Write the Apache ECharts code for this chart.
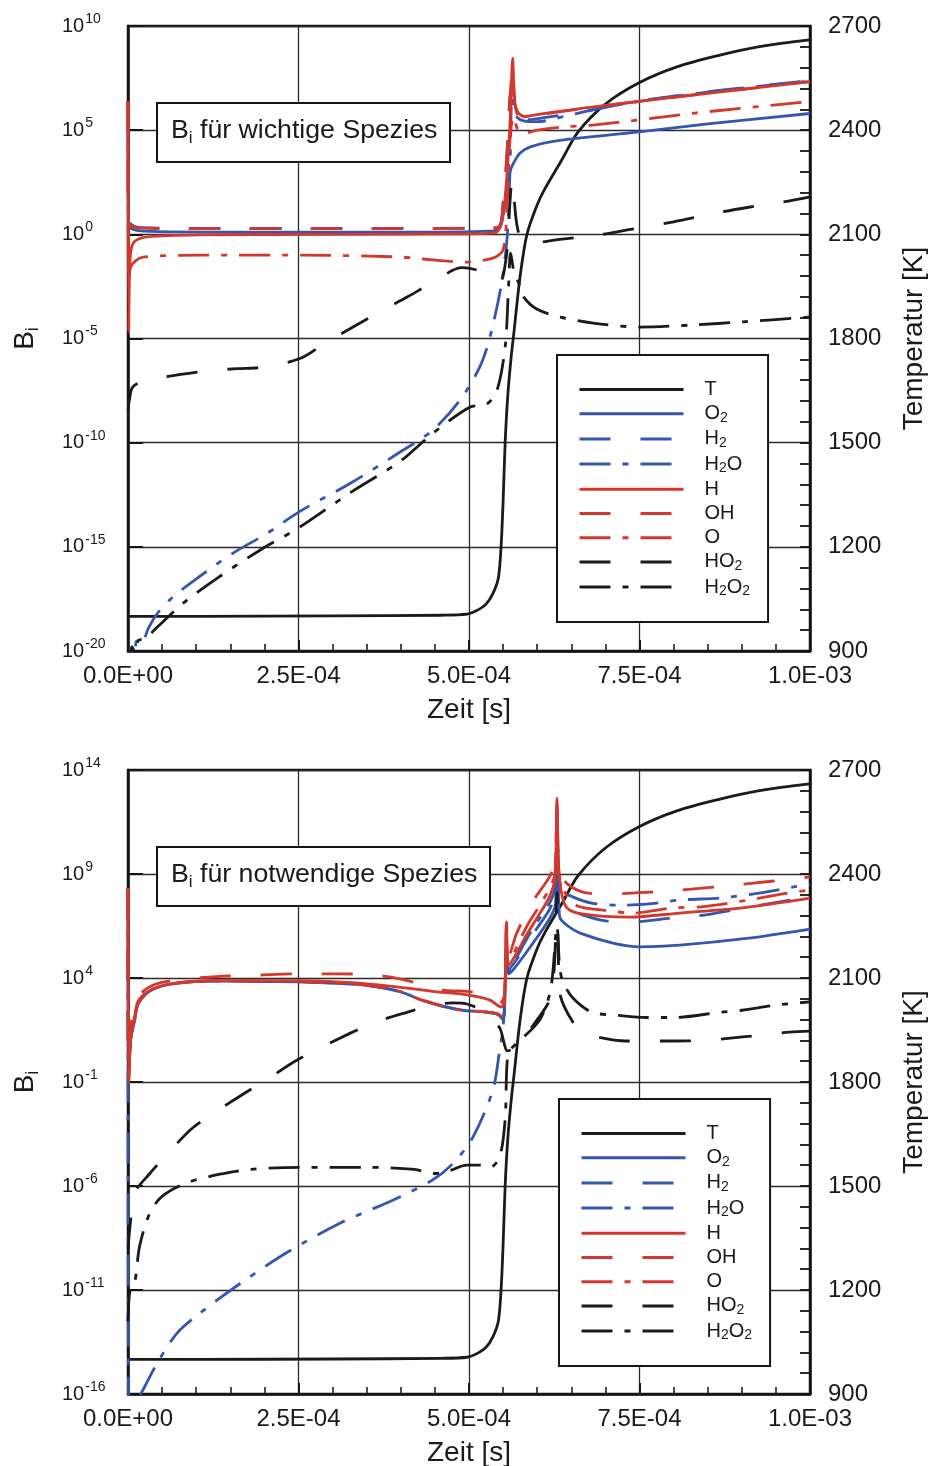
<!DOCTYPE html>
<html><head><meta charset="utf-8">
<script src="https://cdn.jsdelivr.net/npm/echarts@6/dist/echarts.min.js"></script>
<style>html,body{margin:0;padding:0;background:#fff}#c{width:932px;height:1466px}</style>
</head><body><div id="c"></div>
<script>
// ---------------- DATA ----------------
// time in s; species values given as log10(B_i); temperature in K
const speciesNames = ['T','O2','H2','H2O','H','OH','O','HO2','H2O2'];
const xTickValues = [0, 2.5e-4, 5e-4, 7.5e-4, 1e-3];
const titleTop = 'wichtige';
const titleBottom = 'notwendige';

const T_curve = [[0,1000],[1.0e-4,1000],[3.0e-4,1001],[4.6e-4,1003],[4.97e-4,1006],[5.1e-4,1015],[5.25e-4,1035],[5.35e-4,1065],[5.43e-4,1110],[5.47e-4,1200],[5.5e-4,1330],[5.53e-4,1500],[5.57e-4,1640],[5.62e-4,1750],[5.66e-4,1820],[5.75e-4,1980],[5.85e-4,2100],[6.0e-4,2185],[6.11e-4,2230],[6.36e-4,2314],[6.6e-4,2395],[7.0e-4,2475],[7.5e-4,2537],[8.06e-4,2583],[8.8e-4,2622],[9.4e-4,2645],[1.0e-3,2660]];

const top_O2 = [[0,6.4],[1e-6,0.6],[4e-6,0.3],[1.5e-5,0.18],[6e-5,0.12],[2e-4,0.1],[4e-4,0.1],[5.3e-4,0.15],[5.45e-4,0.3],[5.5e-4,0.9],[5.55e-4,2.0],[5.6e-4,3.0],[5.65e-4,3.4],[5.75e-4,3.9],[5.9e-4,4.2],[6.3e-4,4.5],[7.5e-4,4.92],[8.5e-4,5.3],[1e-3,5.8]];
const top_H2 = [[0,6.4],[1e-6,1.0],[4e-6,0.5],[2e-5,0.32],[1e-4,0.28],[3e-4,0.28],[5.3e-4,0.3],[5.45e-4,0.4],[5.5e-4,1.5],[5.55e-4,3.5],[5.6e-4,6.6],[5.64e-4,7.0],[5.68e-4,6.0],[5.75e-4,5.6],[5.85e-4,5.5],[6.1e-4,5.6],[6.6e-4,5.85],[7.5e-4,6.4],[8.5e-4,6.85],[1e-3,7.38]];
const top_H2O = [[0,-21],[5e-6,-19.8],[9e-6,-20.2],[1.3e-5,-19.5],[2.0e-5,-19.6],[3.0e-5,-18.9],[4.3e-5,-18.2],[6.6e-5,-17.4],[1.06e-4,-16.4],[1.54e-4,-15.3],[2.04e-4,-14.35],[2.52e-4,-13.3],[3.26e-4,-11.95],[3.99e-4,-10.45],[4.47e-4,-9.4],[4.87e-4,-7.95],[5.16e-4,-6.35],[5.31e-4,-4.9],[5.48e-4,-2.3],[5.56e-4,-0.1],[5.6e-4,3.0],[5.63e-4,6.6],[5.67e-4,5.75],[5.8e-4,5.45],[6.0e-4,5.41],[6.5e-4,5.75],[7.0e-4,6.1],[7.5e-4,6.38],[8.5e-4,6.83],[1e-3,7.36]];
const top_H = [[0,6.4],[1e-6,-4.7],[3e-6,-1.2],[8e-6,-0.4],[2.5e-5,-0.13],[1e-4,-0.03],[3e-4,0.0],[5e-4,0.02],[5.4e-4,0.1],[5.5e-4,1.0],[5.57e-4,3.5],[5.61e-4,6.0],[5.64e-4,8.46],[5.67e-4,6.4],[5.72e-4,5.85],[5.82e-4,5.65],[6.0e-4,5.75],[6.85e-4,6.13],[8.31e-4,6.69],[1e-3,7.33]];
const top_OH = [[0,6.4],[1e-6,0.7],[5e-6,0.4],[2e-5,0.3],[1e-4,0.27],[3e-4,0.27],[5.3e-4,0.3],[5.45e-4,0.4],[5.5e-4,1.5],[5.56e-4,4.0],[5.6e-4,6.5],[5.64e-4,8.0],[5.67e-4,6.3],[5.72e-4,5.7],[5.82e-4,5.6],[6.0e-4,5.72],[6.85e-4,6.12],[8.31e-4,6.7],[1e-3,7.33]];
const top_O = [[0,6.4],[1e-6,-2.2],[5e-6,-1.5],[2.2e-5,-1.09],[1.06e-4,-1.0],[2.52e-4,-1.0],[3.99e-4,-1.09],[4.47e-4,-1.23],[4.95e-4,-1.33],[5.35e-4,-1.14],[5.5e-4,-0.75],[5.56e-4,1.5],[5.6e-4,4.5],[5.65e-4,5.65],[5.72e-4,5.0],[5.82e-4,4.86],[6.0e-4,5.0],[6.36e-4,5.15],[6.85e-4,5.25],[8.31e-4,5.82],[1e-3,6.37]];
const top_HO2 = [[0,-8.5],[2e-6,-7.95],[7e-6,-7.33],[2.8e-5,-7.0],[1.17e-4,-6.55],[1.6e-4,-6.45],[2.0e-4,-6.37],[2.53e-4,-5.95],[2.9e-4,-5.2],[3.3e-4,-4.45],[3.7e-4,-3.7],[4.1e-4,-3.0],[4.47e-4,-2.3],[4.9e-4,-1.6],[5.1e-4,-1.7],[5.3e-4,-1.95],[5.45e-4,-2.3],[5.55e-4,-1.0],[5.6e-4,1.5],[5.63e-4,2.6],[5.7e-4,0.5],[5.78e-4,-0.3],[5.95e-4,-0.4],[6.3e-4,-0.25],[6.9e-4,-0.03],[7.3e-4,0.2],[8.0e-4,0.6],[8.7e-4,1.07],[9.1e-4,1.3],[9.6e-4,1.55],[1e-3,1.8]];
const top_H2O2 = [[0,-21],[3e-6,-20.2],[6e-6,-19.8],[1.0e-5,-20.1],[1.5e-5,-19.5],[2.5e-5,-19.4],[4.3e-5,-18.85],[8.1e-5,-17.7],[1.31e-4,-16.5],[1.94e-4,-15.15],[2.52e-4,-14.05],[3.26e-4,-12.4],[3.99e-4,-10.9],[4.47e-4,-9.55],[5.01e-4,-8.3],[5.26e-4,-8.15],[5.41e-4,-7.5],[5.53e-4,-5.4],[5.58e-4,-2.5],[5.61e-4,-0.9],[5.66e-4,-1.8],[5.75e-4,-2.5],[5.8e-4,-3.0],[6.0e-4,-3.6],[6.34e-4,-3.97],[6.82e-4,-4.26],[7.51e-4,-4.45],[8.28e-4,-4.35],[9.02e-4,-4.2],[1e-3,-3.97]];

const bot_O2 = [[0,8.3],[1e-6,-1.0],[4e-6,1.0],[1.0e-5,2.0],[1.5e-5,2.75],[3.2e-5,3.37],[6.2e-5,3.7],[1.2e-4,3.85],[2.5e-4,3.82],[3.0e-4,3.75],[3.5e-4,3.65],[4.0e-4,3.33],[4.3e-4,2.94],[4.6e-4,2.65],[4.9e-4,2.45],[5.2e-4,2.37],[5.42e-4,2.25],[5.5e-4,2.0],[5.53e-4,3.5],[5.55e-4,5.9],[5.58e-4,4.2],[5.65e-4,4.4],[5.9e-4,5.5],[6.19e-4,6.9],[6.27e-4,7.6],[6.29e-4,11.5],[6.31e-4,8.5],[6.33e-4,6.93],[6.45e-4,6.5],[6.63e-4,6.16],[7.11e-4,5.68],[7.5e-4,5.5],[8.09e-4,5.58],[9.07e-4,5.9],[1e-3,6.35]];
const bot_H2 = [[0,8.3],[1e-6,-0.5],[4e-6,1.2],[1.0e-5,2.1],[1.5e-5,2.8],[3.2e-5,3.4],[6.2e-5,3.72],[1.2e-4,3.85],[2.5e-4,3.82],[3.0e-4,3.77],[3.5e-4,3.66],[4.0e-4,3.35],[4.3e-4,2.96],[4.6e-4,2.66],[4.9e-4,2.46],[5.2e-4,2.38],[5.42e-4,2.27],[5.5e-4,2.05],[5.53e-4,3.6],[5.55e-4,6.0],[5.58e-4,4.4],[5.7e-4,4.9],[5.85e-4,5.7],[6.0e-4,6.4],[6.18e-4,7.3],[6.26e-4,8.0],[6.29e-4,12.2],[6.31e-4,9.0],[6.35e-4,7.8],[6.5e-4,7.3],[6.7e-4,7.0],[7.0e-4,6.75],[7.4e-4,6.7],[8.0e-4,6.9],[8.5e-4,7.05],[9.1e-4,7.4],[1e-3,7.9]];
const bot_H2O = [[0,8.3],[1e-6,-17],[2.2e-5,-15.8],[4.3e-5,-14.5],[7.2e-5,-13.07],[1.06e-4,-12.1],[1.64e-4,-10.7],[2.33e-4,-9.2],[3.1e-4,-7.8],[3.89e-4,-6.67],[4.47e-4,-5.7],[4.77e-4,-4.9],[5.06e-4,-3.64],[5.35e-4,-1.38],[5.45e-4,0.54],[5.5e-4,1.65],[5.53e-4,3.5],[5.55e-4,5.6],[5.58e-4,4.3],[5.7e-4,5.0],[5.85e-4,5.9],[6.0e-4,6.7],[6.18e-4,7.6],[6.26e-4,8.3],[6.29e-4,12.0],[6.31e-4,9.3],[6.37e-4,8.2],[6.52e-4,7.9],[6.8e-4,7.6],[7.2e-4,7.5],[7.6e-4,7.55],[8.1e-4,7.75],[8.7e-4,7.85],[9.3e-4,8.1],[9.8e-4,8.4],[1e-3,8.5]];
const bot_H = [[0,8.3],[1e-6,-1.0],[4e-6,1.1],[1.0e-5,2.2],[1.5e-5,2.9],[3.2e-5,3.4],[6.2e-5,3.72],[1.2e-4,3.87],[2.5e-4,3.87],[3.0e-4,3.82],[3.5e-4,3.72],[4.0e-4,3.55],[4.5e-4,3.35],[4.95e-4,3.2],[5.3e-4,2.95],[5.47e-4,2.6],[5.52e-4,3.0],[5.55e-4,6.6],[5.58e-4,4.6],[5.7e-4,5.2],[5.85e-4,6.1],[6.0e-4,6.9],[6.18e-4,7.9],[6.26e-4,8.8],[6.29e-4,12.65],[6.31e-4,9.5],[6.35e-4,8.2],[6.43e-4,7.4],[6.63e-4,7.1],[7.36e-4,6.93],[8.09e-4,7.12],[9.07e-4,7.4],[1e-3,7.84]];
const bot_OH = [[0,8.3],[1e-6,0.0],[5e-6,2.0],[1.0e-5,2.8],[2.0e-5,3.3],[4.0e-5,3.7],[7.5e-5,3.92],[1.3e-4,4.07],[1.9e-4,4.14],[2.5e-4,4.2],[3.0e-4,4.2],[3.6e-4,4.15],[4.0e-4,3.95],[4.3e-4,3.7],[4.6e-4,3.42],[5.0e-4,3.35],[5.2e-4,3.2],[5.45e-4,2.8],[5.52e-4,3.2],[5.55e-4,6.7],[5.58e-4,5.0],[5.7e-4,6.16],[5.95e-4,7.75],[6.18e-4,8.86],[6.26e-4,9.6],[6.29e-4,12.5],[6.31e-4,10.0],[6.35e-4,9.0],[6.45e-4,8.5],[6.7e-4,8.1],[7.0e-4,8.04],[7.5e-4,8.1],[8.0e-4,8.2],[9.0e-4,8.5],[1e-3,8.86]];
const bot_O = [[0,8.3],[1e-6,-0.8],[4e-6,1.1],[1.0e-5,2.05],[1.5e-5,2.78],[3.2e-5,3.38],[6.2e-5,3.71],[1.2e-4,3.85],[2.5e-4,3.83],[3.0e-4,3.76],[3.5e-4,3.66],[4.0e-4,3.34],[4.3e-4,2.95],[4.6e-4,2.66],[4.9e-4,2.46],[5.2e-4,2.38],[5.42e-4,2.28],[5.5e-4,2.1],[5.53e-4,3.7],[5.55e-4,6.2],[5.58e-4,4.6],[5.7e-4,5.5],[5.85e-4,6.5],[6.0e-4,7.3],[6.18e-4,8.3],[6.26e-4,9.0],[6.29e-4,12.3],[6.31e-4,9.5],[6.35e-4,8.5],[6.45e-4,7.9],[6.6e-4,7.45],[7.0e-4,7.25],[7.4e-4,7.12],[8.0e-4,7.37],[8.4e-4,7.42],[9.1e-4,7.75],[9.6e-4,8.05],[1e-3,8.23]];
const bot_HO2 = [[0,-9],[5e-6,-7.3],[1.0e-5,-6.3],[3.2e-5,-5.4],[6.2e-5,-4.3],[9.5e-5,-3.2],[1.3e-4,-2.4],[1.68e-4,-1.6],[2.03e-4,-0.9],[2.48e-4,0.06],[3.26e-4,1.35],[3.65e-4,1.9],[4.1e-4,2.36],[4.47e-4,2.7],[4.75e-4,2.8],[4.97e-4,2.75],[5.26e-4,2.3],[5.45e-4,1.6],[5.52e-4,0.8],[5.56e-4,0.5],[5.7e-4,0.7],[6.0e-4,2.0],[6.18e-4,2.95],[6.25e-4,4.5],[6.29e-4,8.1],[6.31e-4,5.0],[6.33e-4,3.3],[6.52e-4,1.9],[6.7e-4,1.4],[6.9e-4,1.15],[7.3e-4,0.97],[8.0e-4,0.97],[8.5e-4,1.0],[8.8e-4,1.1],[9.3e-4,1.26],[9.7e-4,1.4],[1e-3,1.45]];
const bot_H2O2 = [[0,-12.5],[3e-6,-11],[1.0e-5,-10.6],[1.7e-5,-8.9],[3.2e-5,-7.3],[5.0e-5,-6.5],[8.6e-5,-5.85],[1.4e-4,-5.4],[1.8e-4,-5.2],[2.5e-4,-5.1],[3.5e-4,-5.1],[4.2e-4,-5.2],[4.47e-4,-5.4],[4.68e-4,-5.3],[4.97e-4,-5.0],[5.16e-4,-5.0],[5.31e-4,-5.1],[5.45e-4,-4.6],[5.53e-4,-2.8],[5.56e-4,0.0],[5.62e-4,0.6],[5.75e-4,1.0],[6.04e-4,2.0],[6.2e-4,3.5],[6.29e-4,6.5],[6.33e-4,4.5],[6.38e-4,3.8],[6.52e-4,3.05],[6.8e-4,2.36],[7.2e-4,2.2],[7.6e-4,2.1],[8.0e-4,2.1],[8.7e-4,2.36],[9.0e-4,2.45],[9.5e-4,2.7],[1e-3,2.85]];

// ---------------- STYLE ----------------
const FONT = '"Liberation Sans", Arial, Helvetica, sans-serif';
const INK = '#1a1a1a';
const BLACK = '#1a1a1a', BLUE = '#3456b0', RED = '#d4382c';
const DASH = [31, 30], DASHDOT = [31, 12, 6, 12];
const styleOf = {
  T: [BLACK, 'solid'], O2: [BLUE, 'solid'], H2: [BLUE, DASH], H2O: [BLUE, DASHDOT],
  H: [RED, 'solid'], OH: [RED, DASH], O: [RED, DASHDOT], HO2: [BLACK, DASH], H2O2: [BLACK, DASHDOT]
};
const richName = {
  T: '{n|T}', O2: '{n|O}{s|2}', H2: '{n|H}{s|2}', H2O: '{n|H}{s|2}{n|O}', H: '{n|H}',
  OH: '{n|OH}', O: '{n|O}', HO2: '{n|HO}{s|2}', H2O2: '{n|H}{s|2}{n|O}{s|2}'
};

function series(name, data, xi, yi) {
  const st = styleOf[name];
  return {
    name, type: 'line', xAxisIndex: xi, yAxisIndex: yi, data,
    symbol: 'none', showSymbol: false, smooth: 0.3,
    lineStyle: { color: st[0], width: 2.8, type: st[1], cap: 'butt', join: 'round' },
    itemStyle: { color: st[0] }, emphasis: { disabled: true }, z: 3
  };
}

function fmtX(v) {
  if (Math.abs(v) < 1e-12) return '0.0E+00';
  const e = Math.floor(Math.log10(Math.abs(v)) + 1e-9);
  const m = v / Math.pow(10, e);
  const sign = e < 0 ? '-' : '+';
  const ae = Math.abs(e);
  return m.toFixed(1) + 'E' + sign + (ae < 10 ? '0' : '') + ae;
}

const gridTops = [26, 770];
const gridH = [625, 624];
const yRanges = [[-20, 10], [-16, 14]];

const grids = [], xAxes = [], yAxes = [], allSeries = [], titles = [], legends = [];
const panelData = [
  { T: T_curve, O2: top_O2, H2: top_H2, H2O: top_H2O, H: top_H, OH: top_OH, O: top_O, HO2: top_HO2, H2O2: top_H2O2 },
  { T: T_curve, O2: bot_O2, H2: bot_H2, H2O: bot_H2O, H: bot_H, OH: bot_OH, O: bot_O, HO2: bot_HO2, H2O2: bot_H2O2 }
];
const axisText = { fontFamily: FONT, fontSize: 24, color: INK };
const nameText = { fontFamily: FONT, fontSize: 28, color: INK };
const subRich = {
  b: { fontFamily: FONT, fontSize: 28, color: INK, lineHeight: 34, fontWeight: 'normal' },
  i: { fontFamily: FONT, fontSize: 18, color: INK, lineHeight: 10, verticalAlign: 'bottom', fontWeight: 'normal' }
};

for (let p = 0; p < 2; p++) {
  grids.push({ left: 128, width: 682, top: gridTops[p], height: gridH[p], show: true,
    outerBoundsMode: 'none', containLabel: false,
    borderColor: '#151515', borderWidth: 2.5, backgroundColor: 'transparent' });
  xAxes.push({
    type: 'value', gridIndex: p, min: xTickValues[0], max: xTickValues[xTickValues.length - 1],
    interval: xTickValues[1] - xTickValues[0],
    name: 'Zeit [s]', nameLocation: 'middle', nameGap: 45, nameTextStyle: nameText,
    axisLine: { show: true, onZero: false, lineStyle: { color: '#151515', width: 2.5 } },
    axisTick: { show: true, inside: true, length: 11, lineStyle: { color: '#151515', width: 2 } },
    minorTick: { show: true, splitNumber: 5, length: 7, lineStyle: { color: '#151515', width: 1.5 } },
    splitLine: { show: true, lineStyle: { color: '#2a2a2a', width: 1.3 } },
    axisLabel: { ...axisText, margin: 13, formatter: fmtX }
  });
  yAxes.push({
    type: 'value', gridIndex: p, min: yRanges[p][0], max: yRanges[p][1], interval: 5, position: 'left',
    name: '{b|B}{i|i}', nameLocation: 'middle', nameGap: 86, nameRotate: 90,
    nameTextStyle: { ...nameText, rich: subRich },
    axisLine: { show: true, onZero: false, lineStyle: { color: '#151515', width: 2.5 } },
    axisTick: { show: true, inside: true, length: 15, lineStyle: { color: '#151515', width: 2 } },
    splitLine: { show: true, lineStyle: { color: '#2a2a2a', width: 1.3 } },
    axisLabel: { margin: 66, align: 'left', formatter: v => '{b|10}{s|' + v + '}',
      rich: { b: { fontFamily: FONT, fontSize: 20, color: INK, lineHeight: 28 },
        s: { fontFamily: FONT, fontSize: 14, color: INK, lineHeight: 8, verticalAlign: 'top', padding: [0, 0, 0, 1] } } }
  });
  yAxes.push({
    type: 'value', gridIndex: p, min: 900, max: 2700, interval: 300, position: 'right',
    name: 'Temperatur [K]', nameLocation: 'middle', nameGap: 90, nameRotate: 90, nameTextStyle: nameText,
    axisLine: { show: true, onZero: false, lineStyle: { color: '#151515', width: 2.5 } },
    axisTick: { show: true, inside: true, length: 10, lineStyle: { color: '#151515', width: 1.8 } },
    minorTick: { show: true, splitNumber: 5, length: 10, lineStyle: { color: '#151515', width: 1.8 } },
    splitLine: { show: false },
    axisLabel: { ...axisText, margin: 18, formatter: v => String(v) }
  });
  for (const nm of speciesNames) {
    const yi = nm === 'T' ? 2 * p + 1 : 2 * p;
    allSeries.push(series(nm, panelData[p][nm], p, yi));
  }
  const tw = p === 0 ? titleTop : titleBottom;
  titles.push({
    text: '{b|B}{i|i}{b| für ' + tw + ' Spezies}', left: 157, top: gridTops[p] + 74,
    backgroundColor: '#fff', borderColor: '#151515', borderWidth: 2,
    padding: [15, 13, 15, 14], z: 10,
    textStyle: { fontWeight: 'normal', rich: {
      b: { fontFamily: FONT, fontSize: 26.7, color: INK, lineHeight: 32, fontWeight: 'normal' },
      i: { fontFamily: FONT, fontSize: 17, color: INK, lineHeight: 10, verticalAlign: 'bottom', fontWeight: 'normal' } } }
  });
  legends.push({
    orient: 'vertical', left: 557 + p * 2, top: gridTops[p] + 329, data: speciesNames,
    itemWidth: 104, itemHeight: 14, itemGap: 4.2, selectedMode: false,
    backgroundColor: '#fff', borderColor: '#151515', borderWidth: 2, borderRadius: 0,
    padding: [24.5, 18, 24, 21], z: 10,
    lineStyle: { width: 3 },
    itemStyle: { opacity: 0, borderWidth: 0 },
    formatter: n => richName[n],
    textStyle: { width: 50, padding: [0, 0, 0, 16],
      rich: { n: { fontFamily: FONT, fontSize: 20, color: INK, lineHeight: 22 },
        s: { fontFamily: FONT, fontSize: 14, color: INK, lineHeight: 8, verticalAlign: 'bottom' } } }
  });
}

const chart = echarts.init(document.getElementById('c'), null, { renderer: 'canvas' });
chart.setOption({
  animation: false, backgroundColor: '#fff',
  title: titles, legend: legends, grid: grids, xAxis: xAxes, yAxis: yAxes, series: allSeries
});
</script>
</body></html>
